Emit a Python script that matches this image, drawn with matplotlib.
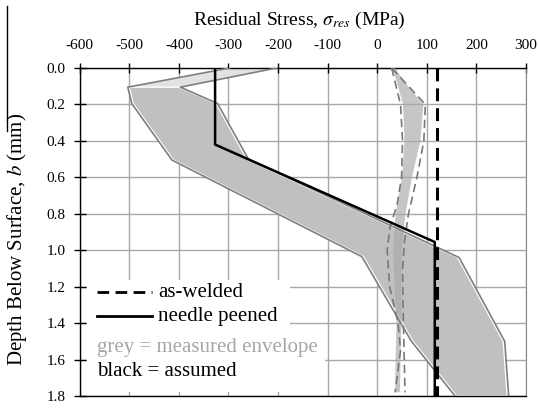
import matplotlib
matplotlib.use("Agg")
import matplotlib.pyplot as plt
from matplotlib.lines import Line2D
from matplotlib.patches import Rectangle
from matplotlib.transforms import offset_copy

plt.rcParams['font.family'] = 'serif'
plt.rcParams['font.serif'] = ['Liberation Serif', 'DejaVu Serif']
plt.rcParams['mathtext.fontset'] = 'stix'

# needle peened, measured envelope (min / max boundaries)
pe_lo_depth = [0.0, 0.105, 0.195, 0.505, 1.035, 1.5, 1.8]
pe_lo_stress = [-295, -500, -492, -411, -28, 72, 160]
pe_hi_depth = [0.0, 0.105, 0.195, 0.5, 1.04, 1.5, 1.8]
pe_hi_stress = [-206, -400, -325, -263, 162, 254, 262]

# as-welded, measured (dashed min / max curves)
aw_lo_depth = [0.0, 0.2, 0.4, 0.6, 0.75, 0.87, 1.0, 1.2, 1.4, 1.55, 1.78]
aw_lo_stress = [29, 47, 51, 49, 40, 26, 20, 25, 42, 47, 36]
aw_hi_depth = [0.0, 0.2, 0.4, 0.6, 0.8, 0.95, 1.1, 1.3, 1.55, 1.78]
aw_hi_stress = [29, 97, 94, 80, 63, 55, 51, 52, 54, 56]

# as-welded, measured envelope band
band_depth = [0.0, 0.1, 0.2, 0.4, 0.6, 0.8, 1.0, 1.2, 1.4, 1.6, 1.78]
band_left = [31, 42, 52, 55, 50, 37, 32, 35, 39, 37, 36]
band_right = [36, 62, 93, 87, 70, 57, 49, 48, 49, 47, 46]

# assumed profiles
aw_assumed_depth = [0.0, 1.8]
aw_assumed_stress = [121, 121]
np_assumed_depth = [0.0, 0.42, 0.955, 1.8]
np_assumed_stress = [-327, -327, 116, 116]

xticks = [-600, -500, -400, -300, -200, -100, 0, 100, 200, 300]
yticks = [0.0, 0.2, 0.4, 0.6, 0.8, 1.0, 1.2, 1.4, 1.6, 1.8]

fig = plt.figure(figsize=(5.39, 4.08), dpi=100)
ax = fig.add_axes([0.1479, 0.0294, 0.828, 0.8039])

ax.set_xlim(-600, 300)
ax.set_ylim(1.8, 0.0)
ax.set_xticks(xticks)
ax.set_yticks(yticks)
ax.set_xticklabels([str(v) for v in xticks])
ax.set_yticklabels(['%.1f' % v for v in yticks])
ax.xaxis.tick_top()
ax.tick_params(axis='x', direction='inout', length=7, width=1, pad=8, labelsize=11)
ax.tick_params(axis='y', direction='inout', length=8, width=1, pad=6, labelsize=11)
ax.set_axisbelow(True)
ax.grid(True, color='#a8a8a8', linewidth=1.0)
for side in ['top', 'bottom', 'left']:
    ax.spines[side].set_color('black')
    ax.spines[side].set_linewidth(1.0)
ax.spines['right'].set_color('#888888')

# peened envelope: light wedge near surface + main body
ax.fill(pe_lo_stress[:2] + pe_hi_stress[:2][::-1],
        pe_lo_depth[:2] + pe_hi_depth[:2][::-1],
        facecolor='#e2e2e2', edgecolor='none', zorder=2)
ax.fill(pe_lo_stress[1:] + pe_hi_stress[1:][::-1],
        pe_lo_depth[1:] + pe_hi_depth[1:][::-1],
        facecolor='#c0c0c0', edgecolor='white', linewidth=1.0, zorder=2)

# as-welded envelope band
ax.fill_betweenx(band_depth, band_left, band_right,
                 facecolor='#a8a8a8', alpha=0.65, edgecolor='none', zorder=3)

# envelope outlines, nudged outward from the fill
left_tr = offset_copy(ax.transData, fig=fig, x=-1.5, y=0, units='dots')
right_tr = offset_copy(ax.transData, fig=fig, x=1.5, y=0, units='dots')
ax.plot(pe_lo_stress, pe_lo_depth, color='#7f7f7f', lw=1.2, transform=left_tr, zorder=4)
ax.plot(pe_hi_stress, pe_hi_depth, color='#7f7f7f', lw=1.2, transform=right_tr, zorder=4)

ax.plot(aw_lo_stress, aw_lo_depth, color='#787878', lw=1.2, dashes=(5, 2.8), zorder=4)
ax.plot(aw_hi_stress, aw_hi_depth, color='#787878', lw=1.2, dashes=(5, 2.8), zorder=4)

ax.plot(np_assumed_stress, np_assumed_depth, color='black', lw=1.8, zorder=5)
ax.plot(aw_assumed_stress, aw_assumed_depth, color='black', lw=2.2, dashes=(4.2, 2.3), zorder=5)

# key box
ax.add_patch(Rectangle((0.016, 0.012), 0.455, 0.343, transform=ax.transAxes,
                       facecolor='white', edgecolor='none', zorder=1))
ax.add_patch(Rectangle((0.016, 0.104), 0.534, 0.096, transform=ax.transAxes,
                       facecolor='white', edgecolor='none', zorder=1))
ax.add_line(Line2D([0.038, 0.161], [0.317, 0.317], transform=ax.transAxes,
                   color='black', lw=2.0, dashes=(4.2, 2.3), zorder=6))
ax.add_line(Line2D([0.038, 0.163], [0.243, 0.243], transform=ax.transAxes,
                   color='black', lw=2.0, zorder=6))
ax.text(0.175, 0.317, 'as-welded', transform=ax.transAxes, fontsize=15,
        va='center', ha='left', zorder=6)
ax.text(0.175, 0.243, 'needle peened', transform=ax.transAxes, fontsize=15,
        va='center', ha='left', zorder=6)
ax.text(0.038, 0.148, 'grey = measured envelope', transform=ax.transAxes, fontsize=15,
        color='#a6a6a6', va='center', ha='left', zorder=6)
ax.text(0.038, 0.075, 'black = assumed', transform=ax.transAxes, fontsize=15,
        va='center', ha='left', zorder=6)

fig.text(299 / 539, 1 - 20 / 408, r'Residual Stress, $\sigma_{res}$ (MPa)',
         fontsize=14, ha='center', va='center')
fig.text(17 / 539, 1 - 239 / 408, r'Depth Below Surface, $b$ (mm)',
         fontsize=15, rotation=90, ha='center', va='center')

# stray frame edge on the left
fig.add_artist(Line2D([0.013, 0.013], [0.985, 0.679], transform=fig.transFigure,
                      color='black', lw=1.0))

fig.savefig('out.png', dpi=100)
